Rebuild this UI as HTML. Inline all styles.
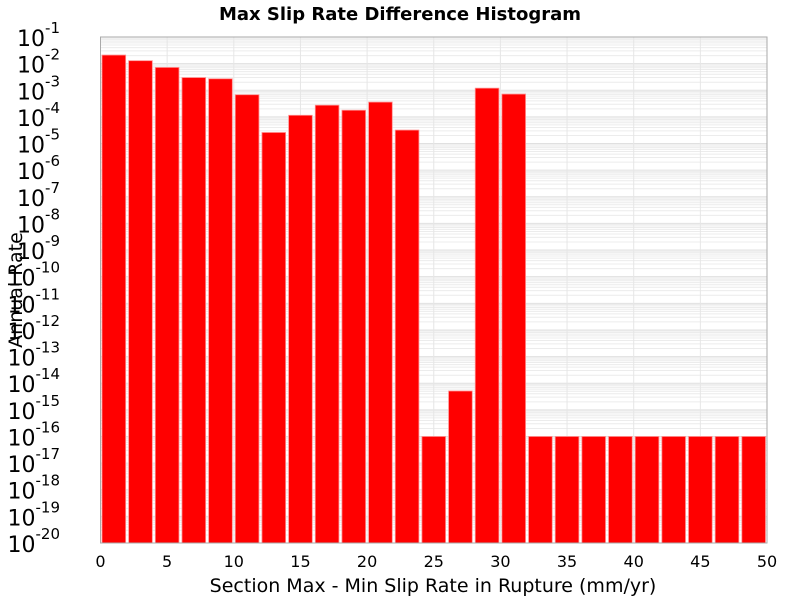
<!DOCTYPE html>
<html><head><meta charset="utf-8"><style>body{margin:0;background:#fff}svg{font-family:"DejaVu Sans","Liberation Sans",sans-serif}</style></head>
<body>
<svg id="c" width="800" height="600"></svg>
<script>
const binStarts=[0,2,4,6,8,10,12,14,16,18,20,22,24,26,28,30,32,34,36,38,40,42,44,46,48];
const rates=[0.021,0.0129,0.0072,0.0030,0.0027,6.8e-4,2.6e-5,1.15e-4,2.75e-4,1.78e-4,3.6e-4,3.2e-5,1e-16,5.1e-15,1.2e-3,7.2e-4,1e-16,1e-16,1e-16,1e-16,1e-16,1e-16,1e-16,1e-16,1e-16];
const xTicks=[0,5,10,15,20,25,30,35,40,45,50];
const yExps=[-1,-2,-3,-4,-5,-6,-7,-8,-9,-10,-11,-12,-13,-14,-15,-16,-17,-18,-19,-20];
const binWidth=2;
const L=100.5,R=767,T=37,B=543;
const NS="http://www.w3.org/2000/svg";
const svg=document.getElementById('c');
const X=v=>L+(v-0)/(50-0)*(R-L);
const Y=v=>T+(-1-Math.log10(v))/19*(B-T);
function mk(t,a,p){const e=document.createElementNS(NS,t);for(const k in a)e.setAttribute(k,a[k]);(p||svg).appendChild(e);return e;}
const bg=mk('rect',{x:L,y:T,width:R-L,height:B-T,fill:'#fff'});


const grid=mk('g',{});


for(let e=-20;e<-1;e++){for(let m=1;m<10;m++){const y=Y(m*Math.pow(10,e));mk('line',{x1:L,x2:R,y1:y,y2:y,stroke:m==1?'#e0e0e0':'#ececec','stroke-width':1},grid);}}
xTicks.forEach(t=>{const x=X(t);mk('line',{x1:x,x2:x,y1:T,y2:B,stroke:'#e6e6e6'},grid);});
const bars=mk('g',{});


binStarts.forEach((s,i)=>{const x0=X(s)+1.5,x1=X(s+binWidth)-1.5,y=Y(rates[i]);
const r=mk('rect',{x:x0,y:y,width:x1-x0,height:B-y,fill:'#ff0000',stroke:'#ff9090','stroke-width':0.8},bars);

});
const fr=mk('rect',{x:L,y:T,width:R-L,height:B-T,fill:'none',stroke:'#aaa'});


xTicks.forEach(t=>{const tx=mk('text',{x:X(t),y:567,'font-size':16,'text-anchor':'middle'});tx.textContent=t;

});
yExps.forEach(e=>{const y=Y(Math.pow(10,e));const tx=mk('text',{x:60,y:y+9,'font-size':22,'text-anchor':'end'});


tx.textContent='10';const sp=mk('tspan',{dy:-13,'font-size':15},tx);sp.textContent=e;});
const ti=mk('text',{x:400,y:20,'font-size':18,'font-weight':'bold','text-anchor':'middle'});ti.textContent='Max Slip Rate Difference Histogram';


const xl=mk('text',{x:433,y:592,'font-size':19,'text-anchor':'middle'});xl.textContent='Section Max - Min Slip Rate in Rupture (mm/yr)';


const yl=mk('text',{x:0,y:0,'font-size':19,'text-anchor':'middle',transform:'translate(22,290) rotate(-90)'});yl.textContent='Annual Rate';


</script>
</body></html>
